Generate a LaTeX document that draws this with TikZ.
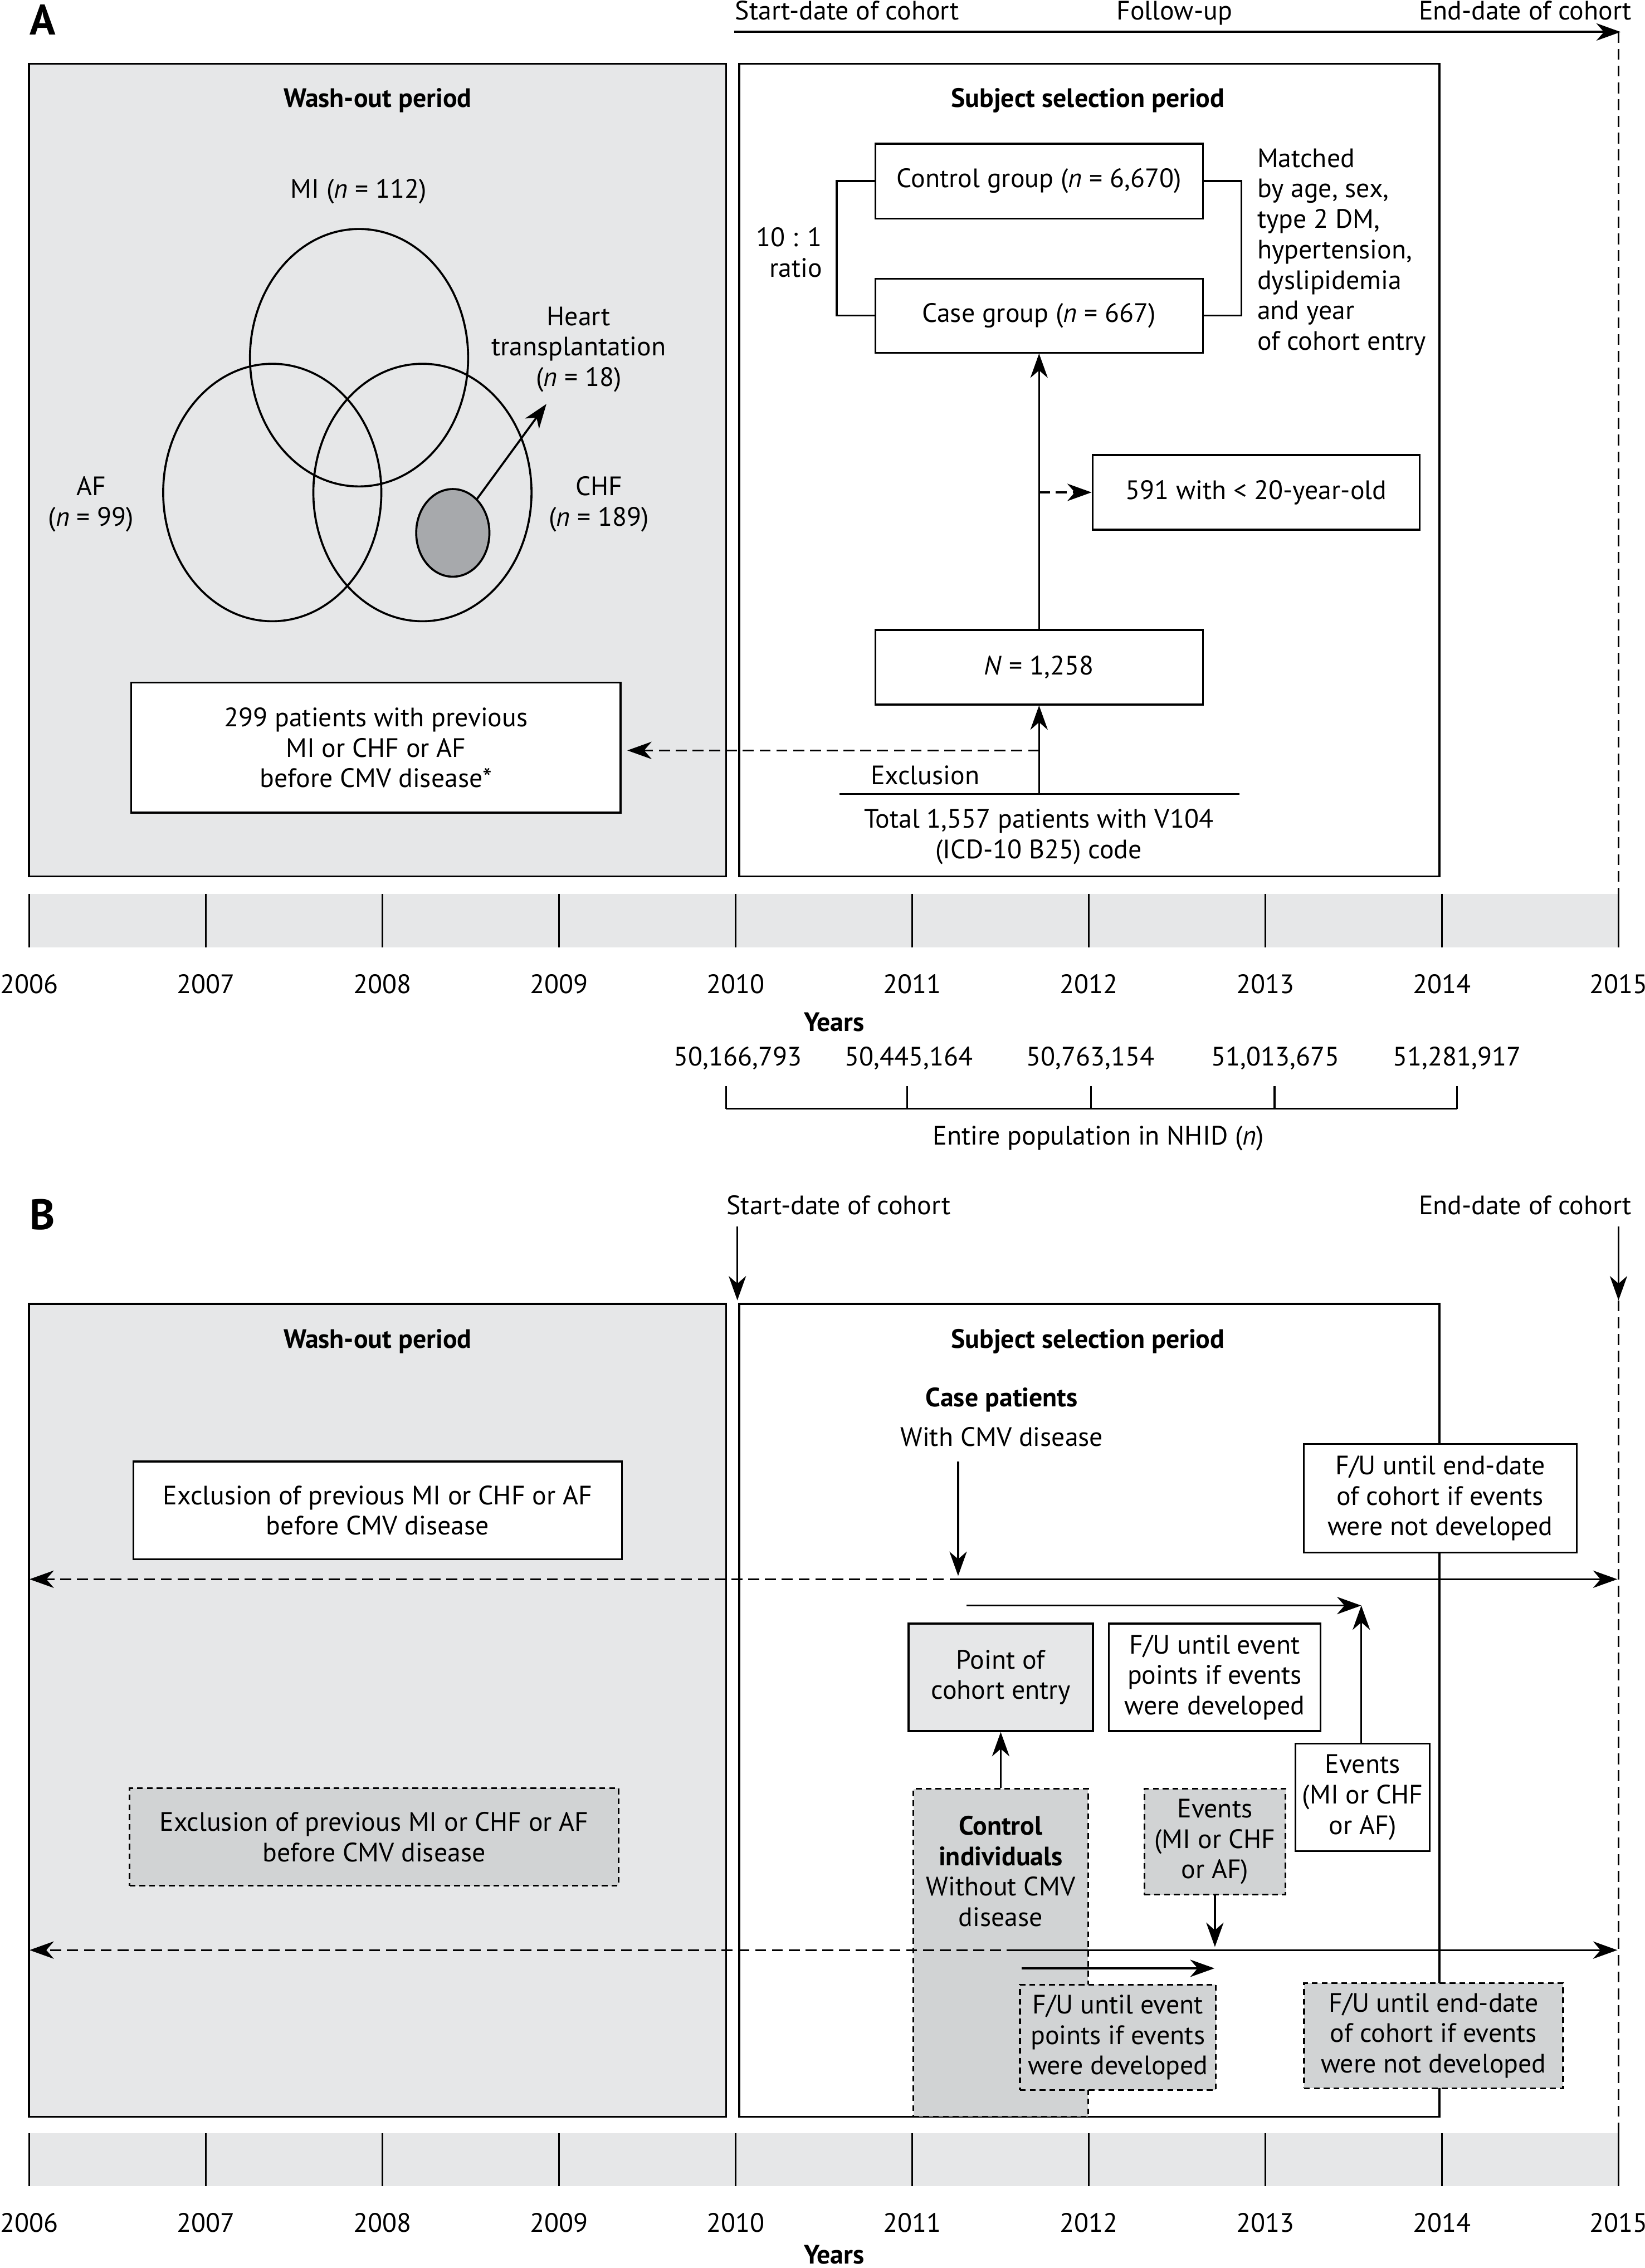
\documentclass[tikz,border=0pt]{standalone}
\usepackage{fontspec}
\setmainfont{PT Sans}
\usetikzlibrary{arrows.meta}
\definecolor{lgray}{HTML}{E6E7E8}
\definecolor{mgray}{HTML}{D1D3D4}
\definecolor{dgray}{HTML}{A7A9AC}
\begin{document}
\begin{tikzpicture}[x=0.25mm,y=-0.25mm,line width=0.9pt,
  txt/.style={font=\fontsize{13.1}{15}\selectfont, inner sep=0pt, align=center},
  lbl/.style={txt, yshift=-0.4mm},
  hdr/.style={inner sep=0pt, align=center, yshift=-0.4mm, font=\fontsize{13.1}{15}\selectfont\bfseries},
  big/.style={inner sep=0pt, font=\fontsize{21}{25}\selectfont\bfseries},
  wh/.style 2 args={minimum width=#1*0.25mm, minimum height=#2*0.25mm},
  box/.style={txt,draw,fill=white},
  gbox/.style={txt,draw,fill=lgray},
  dbox/.style={txt,draw,fill=mgray,dash pattern=on 1mm off 0.7mm},
  panel/.style={draw,inner sep=0pt},
  arw/.style={-{Stealth[length=4.2mm,width=3mm,inset=1.3mm]}},
  dline/.style={dash pattern=on 1.9mm off 1mm},
]
\useasboundingbox (0,0) rectangle (1137,1568);

%% ================= PANEL A =================
\node[big,anchor=base] (labA) at (29.4,24) {A};
\node[txt,anchor=base] (hsA) at (585.6,13.5) {Start-date of cohort};
\node[txt,anchor=base] (hfA) at (811.8,13.5) {Follow-up};
\node[txt,anchor=base] (heA) at (1054.3,13.5) {End-date of cohort};
\coordinate (sA) at (507.6,22.1);
\coordinate (eA) at (1120.3,22.1);
\draw[arw,line width=1.1pt] (sA) -- (eA);

\node[panel,fill=lgray,wh={482}{562}] (washA) at (261,325) {};
\node[panel,fill=white,wh={484}{562}] (selA) at (753,325) {};
\node[hdr] (washAt) at (261,68) {Wash-out period};
\node[hdr] (selAt) at (752,68) {Subject selection period};

\coordinate (dA1) at (1118.8,22.1);
\coordinate (dA2) at (1118.8,618);
\draw[dline] (dA1) -- (dA2);

% Venn
\draw[line width=1pt] (248.2,247.3) ellipse [x radius=75.4, y radius=89];
\draw[line width=1pt] (188.2,340.5) ellipse [x radius=75.4, y radius=89];
\draw[line width=1pt] (292,340.5) ellipse [x radius=75.4, y radius=89];
\draw[line width=1pt,fill=dgray] (313,368.4) ellipse [x radius=25.3, y radius=30.3];
\coordinate (htS) at (329.7,345);
\coordinate (htE) at (377.7,279.3);
\draw[arw,line width=1pt] (htS) -- (htE);
\node[lbl] (miL) at (248,130.6) {MI (\textit{n} = 112)};
\node[lbl] (htL) at (400,240) {Heart\\transplantation\\(\textit{n} = 18)};
\node[lbl] (afL) at (63,346.9) {AF\\(\textit{n} = 99)};
\node[lbl] (chfL) at (414,346.9) {CHF\\(\textit{n} = 189)};

\node[box,wh={338.2}{89.8}] (p299) at (259.9,516.9) {299 patients with previous\\MI or CHF or AF\\before CMV disease*};

% selection flow
\node[box,wh={226.5}{51.7}] (ctrl) at (718.25,125.15) {Control group (\textit{n} = 6,670)};
\node[box,wh={226.5}{51.2}] (case) at (718.25,218.2) {Case group (\textit{n} = 667)};
\draw (ctrl.west) -- ++(-26,0) |- (case.west);
\draw (ctrl.east) -- ++(26,0) |- (case.east);
\node[lbl,anchor=east,align=right] (ratio) at (569,172.9) {10 : 1\\ratio};
\node[lbl,anchor=west,align=left] (match) at (868.5,172.65) {Matched\\by age, sex,\\type 2 DM,\\hypertension,\\dyslipidemia\\and year\\of cohort entry};

\node[box,wh={226.1}{51.6}] (ex591) at (868.25,340.4) {591 with < 20-year-old};
\node[box,wh={226.5}{51.6}] (Nbox) at (718.25,461.3) {\textit{N} = 1,258};
\draw[arw] (Nbox.north) -- (case.south);
\coordinate (c591) at (718.25,340.4);
\draw[dline,arw] (c591) -- (ex591.west);

\coordinate (t1) at (580.3,549);
\coordinate (t2) at (856.6,549);
\coordinate (tm) at (718.25,549);
\draw (t1) -- (t2);
\draw[arw] (tm) -- (Nbox.south);
\coordinate (exc) at (718.25,518.8);
\draw[dline,arw,shorten >=1mm] (exc) -- (exc -| p299.east);
\node[lbl] (exL) at (639.5,534.3) {Exclusion};
\node[lbl] (totL) at (718,576.9) {Total 1,557 patients with V104\\(ICD-10 B25) code};

% timeline A
\fill[lgray] (20.3,618) rectangle (1118.8,654.9);
\foreach \i in {0,...,9} {
  \pgfmathsetmacro\xx{20.3+122.05*\i}
  \pgfmathtruncatemacro\yr{2006+\i}
  \draw (\xx,618) -- (\xx,654.9);
  \node[lbl] (yA\i) at (\xx,678.7) {\yr};
}
\node[hdr] (yrsA) at (576.5,705) {Years};
\node[lbl] (pop1) at (510.1,730) {50,166,793};
\node[lbl] (pop2) at (628.3,730) {50,445,164};
\node[lbl] (pop3) at (753.7,730) {50,763,154};
\node[lbl] (pop4) at (881.7,730) {51,013,675};
\node[lbl] (pop5) at (1007.2,730) {51,281,917};
\coordinate (br1) at (501.8,766.6);
\coordinate (br2) at (1007.2,766.6);
\draw (br1) -- (br2);
\foreach \x in {501.8,627.2,754.1,881,1007.2} { \draw (\x,750.8) -- (\x,766.6); }
\node[lbl] (popL) at (759.2,785.5) {Entire population in NHID (\textit{n})};

%% ================= PANEL B =================
\node[big,anchor=base] (labB) at (29.4,850.1) {B};
\node[txt,anchor=base] (hsB) at (579.7,839.7) {Start-date of cohort};
\node[txt,anchor=base] (heB) at (1054.3,839.7) {End-date of cohort};
\coordinate (sB1) at (509.7,848);
\coordinate (sB2) at (509.7,899);
\coordinate (eB1) at (1118.8,848);
\coordinate (eB2) at (1118.8,899);
\coordinate (eB3) at (1118.8,1474.8);

\node[panel,fill=lgray,wh={482}{562}] (washB) at (261,1182.4) {};
\node[panel,fill=white,wh={484}{562}] (selB) at (753,1182.4) {};
\draw[arw] (sB1) -- (sB2);
\draw[arw] (eB1) -- (eB2);
\draw[dline] (eB2) -- (eB3);
\node[hdr] (washBt) at (261,925.8) {Wash-out period};
\node[hdr] (selBt) at (752,925.8) {Subject selection period};

\node[hdr] (casP) at (692.5,966.2) {Case patients};
\node[lbl] (casW) at (692.5,991.7) {With CMV disease};

\node[box,wh={337.9}{67.6}] (exB) at (261.05,1044.2) {Exclusion of previous MI or CHF or AF\\before CMV disease};
\node[dbox,wh={338}{67.5}] (exBd) at (258.6,1269.95) {Exclusion of previous MI or CHF or AF\\before CMV disease};

\node[dbox,wh={120.7}{226.7}] (ctrlBox) at (691.75,1350.05) {};
\node[lbl] (ctrlT) at (691.75,1292.1) {\textbf{Control}\\\textbf{individuals}\\Without CMV\\disease};

% case lines
\coordinate (ca1) at (662.3,1010.4);
\coordinate (ca2) at (662.3,1089.5);
\draw[arw] (ca1) -- (ca2);
\coordinate (L1a) at (664,1091.8);
\coordinate (L1l) at (20.4,1091.8);
\coordinate (L1r) at (1118,1091.8);
\draw[dline,arw] (L1a) -- (L1l);
\draw[arw] (L1a) -- (L1r);
\coordinate (L2a) at (668.2,1110);
\coordinate (L2b) at (941,1110);
\draw[arw] (L2a) -- (L2b);

\node[gbox,wh={127.5}{74.3}] (pointE) at (691.75,1159.65) {Point of\\cohort entry};
\node[box,wh={146.1}{74.3}] (fuEv) at (839.65,1159.65) {F/U until event\\points if events\\were developed};
\node[box,wh={92.9}{74.3}] (evCase) at (941.95,1242.55) {Events\\(MI or CHF\\or AF)};
\draw[arw] (evCase.north -| L2b) -- (L2b);
\draw[arw] (ctrlBox.north) -- (pointE.south);

% control lines
\node[dbox,wh={97.6}{73.1}] (evCtrl) at (839.8,1273.25) {Events\\(MI or CHF\\or AF)};
\coordinate (L3c) at (839.8,1346);
\draw[arw] (evCtrl.south) -- (L3c);
\coordinate (L3a) at (703.6,1348.2);
\coordinate (L3l) at (20.4,1348.2);
\coordinate (L3r) at (1118,1348.2);
\draw[dline,arw] (L3a) -- (L3l);
\draw[arw] (L3a) -- (L3r);
\coordinate (L4a) at (706.4,1360.8);
\coordinate (L4b) at (839.5,1360.8);
\draw[arw] (L4a) -- (L4b);

\node[dbox,wh={135.5}{72.8}] (fuEvC) at (772.75,1408.5) {F/U until event\\points if events\\were developed};
\node[dbox,wh={179.1}{72.8}] (fuEndC) at (990.95,1407.3) {F/U until end-date\\of cohort if events\\were not developed};
\node[box,wh={188.5}{75.2}] (fuEndT) at (995.55,1035.8) {F/U until end-date\\of cohort if events\\were not developed};

% timeline B
\fill[lgray] (20.3,1474.8) rectangle (1118.8,1511.5);
\foreach \i in {0,...,9} {
  \pgfmathsetmacro\xx{20.3+122.05*\i}
  \pgfmathtruncatemacro\yr{2006+\i}
  \draw (\xx,1474.8) -- (\xx,1511.5);
  \node[lbl] (yB\i) at (\xx,1535) {\yr};
}
\node[hdr] (yrsB) at (576.5,1557) {Years};
\end{tikzpicture}
\end{document}
